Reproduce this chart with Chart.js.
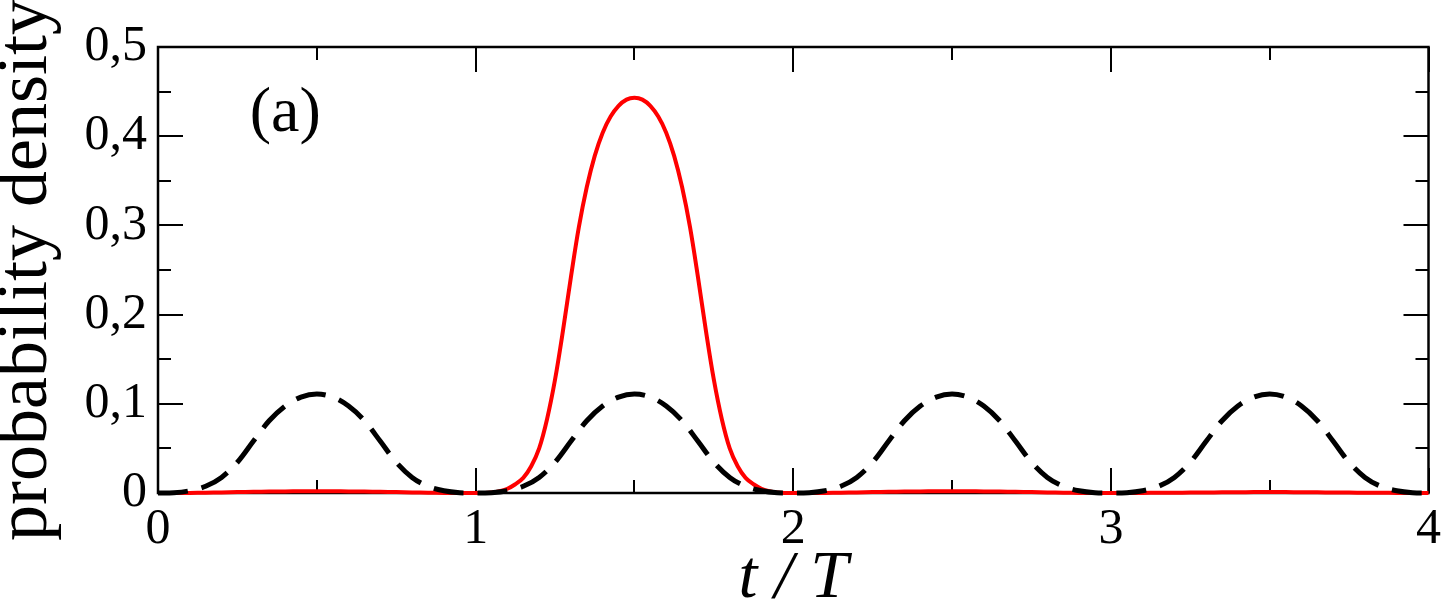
<!DOCTYPE html>
<html>
<head>
<meta charset="utf-8">
<script src="https://cdn.jsdelivr.net/npm/chart.js@4.4.1/dist/chart.umd.min.js"></script>
<style>
  html, body { margin: 0; padding: 0; background: #ffffff; }
  #wrap { width: 1448px; height: 609px; }
</style>
</head>
<body>
<div id="wrap"><canvas id="c" width="1448" height="609"></canvas></div>
<script>
// ---- data ----
const tValues = [
  0.00, 0.05, 0.10, 0.15, 0.20, 0.25, 0.30, 0.35, 0.40, 0.45,
  0.50, 0.55, 0.60, 0.65, 0.70, 0.75, 0.80, 0.85, 0.90, 0.95,
  1.00, 1.05, 1.10, 1.15, 1.20, 1.25, 1.30, 1.35, 1.40, 1.45,
  1.50, 1.55, 1.60, 1.65, 1.70, 1.75, 1.80, 1.85, 1.90, 1.95,
  2.00, 2.05, 2.10, 2.15, 2.20, 2.25, 2.30, 2.35, 2.40, 2.45,
  2.50, 2.55, 2.60, 2.65, 2.70, 2.75, 2.80, 2.85, 2.90, 2.95,
  3.00, 3.05, 3.10, 3.15, 3.20, 3.25, 3.30, 3.35, 3.40, 3.45,
  3.50, 3.55, 3.60, 3.65, 3.70, 3.75, 3.80, 3.85, 3.90, 3.95,
  4.00
];

const dashedSeries = [
  0.0000, 0.0003, 0.0025, 0.0075, 0.0175, 0.0345, 0.0580, 0.0810, 0.0975, 0.1075,
  0.1110, 0.1075, 0.0975, 0.0810, 0.0580, 0.0345, 0.0175, 0.0075, 0.0025, 0.0003,
  0.0000, 0.0003, 0.0025, 0.0075, 0.0175, 0.0345, 0.0580, 0.0810, 0.0975, 0.1075,
  0.1110, 0.1075, 0.0975, 0.0810, 0.0580, 0.0345, 0.0175, 0.0075, 0.0025, 0.0003,
  0.0000, 0.0003, 0.0025, 0.0075, 0.0175, 0.0345, 0.0580, 0.0810, 0.0975, 0.1075,
  0.1110, 0.1075, 0.0975, 0.0810, 0.0580, 0.0345, 0.0175, 0.0075, 0.0025, 0.0003,
  0.0000, 0.0003, 0.0025, 0.0075, 0.0175, 0.0345, 0.0580, 0.0810, 0.0975, 0.1075,
  0.1110, 0.1075, 0.0975, 0.0810, 0.0580, 0.0345, 0.0175, 0.0075, 0.0025, 0.0003,
  0.0000
];

const redT = [
  0.00, 0.05, 0.10, 0.15, 0.20, 0.25, 0.30, 0.35, 0.40, 0.45,
  0.50, 0.55, 0.60, 0.65, 0.70, 0.75, 0.80, 0.85, 0.90, 0.95,
  1.000, 1.025, 1.050, 1.075, 1.100, 1.125, 1.150, 1.175, 1.200, 1.225,
  1.250, 1.275, 1.300, 1.325, 1.350, 1.375, 1.400, 1.425, 1.450, 1.475,
  1.500, 1.525, 1.550, 1.575, 1.600, 1.625, 1.650, 1.675, 1.700, 1.725,
  1.750, 1.775, 1.800, 1.825, 1.850, 1.875, 1.900, 1.925, 1.950, 1.975,
  2.00, 2.05, 2.10, 2.15, 2.20, 2.25, 2.30, 2.35, 2.40, 2.45,
  2.50, 2.55, 2.60, 2.65, 2.70, 2.75, 2.80, 2.85, 2.90, 2.95,
  3.00, 3.05, 3.10, 3.15, 3.20, 3.25, 3.30, 3.35, 3.40, 3.45,
  3.50, 3.55, 3.60, 3.65, 3.70, 3.75, 3.80, 3.85, 3.90, 3.95,
  4.00
];

const redSeries = [
  0.0000, 0.0000, 0.0001, 0.0003, 0.0006, 0.0010, 0.0013, 0.0016, 0.0018, 0.0019,
  0.0020, 0.0019, 0.0018, 0.0016, 0.0013, 0.0010, 0.0006, 0.0003, 0.0001, 0.0000,
  0.0000, 0.0001, 0.0006, 0.0020, 0.0048, 0.0098, 0.0170, 0.0300, 0.0500, 0.0830,
  0.1270, 0.1820, 0.2420, 0.2980, 0.3430, 0.3780, 0.4040, 0.4220, 0.4340, 0.4410,
  0.4430, 0.4410, 0.4340, 0.4220, 0.4040, 0.3780, 0.3430, 0.2980, 0.2420, 0.1820,
  0.1270, 0.0830, 0.0500, 0.0300, 0.0170, 0.0098, 0.0048, 0.0020, 0.0006, 0.0001,
  0.0000, 0.0000, 0.0001, 0.0003, 0.0006, 0.0010, 0.0013, 0.0016, 0.0018, 0.0019,
  0.0020, 0.0019, 0.0018, 0.0016, 0.0013, 0.0010, 0.0006, 0.0003, 0.0001, 0.0000,
  0.0000, 0.0000, 0.0001, 0.0002, 0.0003, 0.0005, 0.0006, 0.0008, 0.0009, 0.0010,
  0.0010, 0.0010, 0.0009, 0.0008, 0.0006, 0.0005, 0.0003, 0.0002, 0.0001, 0.0000,
  0.0000
];

const xMajorTicks = [0, 1, 2, 3, 4];
const xMinorTicks = [0.5, 1.5, 2.5, 3.5];
const yMajorTicks = [0, 0.1, 0.2, 0.3, 0.4, 0.5];
const yMinorTicks = [0.05, 0.15, 0.25, 0.35, 0.45];
const xTitle = 't / T';
const yTitle = 'probability density';
const panelLabel = '(a)';
const panelLabelPos = [0.289, 0.406]; // in data units (t, density)

// ---- build ----
const SERIF = "'Liberation Serif', 'Times New Roman', Times, serif";
const toPts = (xs, ys) => xs.map((t, i) => ({ x: t, y: ys[i] }));
const fmt = (v) => {
  if (Math.abs(v) < 1e-9) return '0';
  if (Math.abs(v - Math.round(v)) < 1e-9) return String(Math.round(v));
  return v.toFixed(1).replace('.', ',');
};

const framePlugin = {
  id: 'frameTicks',
  beforeDatasetsDraw(chart) {
    const { ctx, chartArea: a, scales: { x, y } } = chart;
    ctx.save();
    ctx.strokeStyle = '#000';
    ctx.lineWidth = 2;
    ctx.lineCap = 'butt';
    ctx.beginPath();
    const MAJ = 25, MIN = 13;
    xMajorTicks.concat(xMinorTicks).forEach(v => {
      const px = Math.round(x.getPixelForValue(v));
      const len = xMajorTicks.includes(v) ? MAJ : MIN;
      ctx.moveTo(px, a.bottom); ctx.lineTo(px, a.bottom - len);
      ctx.moveTo(px, a.top); ctx.lineTo(px, a.top + len);
    });
    yMajorTicks.concat(yMinorTicks).forEach(v => {
      const py = Math.round(y.getPixelForValue(v));
      const len = yMajorTicks.includes(v) ? MAJ : MIN;
      ctx.moveTo(a.left, py); ctx.lineTo(a.left + len, py);
      ctx.moveTo(a.right, py); ctx.lineTo(a.right - len, py);
    });
    ctx.stroke();
    ctx.lineWidth = 2.5;
    ctx.strokeRect(a.left, a.top, a.right - a.left, a.bottom - a.top);
    ctx.restore();
  },
  afterDatasetsDraw(chart) {
    const { ctx, scales: { x, y } } = chart;
    ctx.save();
    ctx.fillStyle = '#000';
    ctx.font = '64px ' + SERIF;
    ctx.textAlign = 'left';
    ctx.textBaseline = 'alphabetic';
    ctx.fillText(panelLabel, x.getPixelForValue(panelLabelPos[0]), y.getPixelForValue(panelLabelPos[1]));
    ctx.restore();
  }
};

new Chart(document.getElementById('c'), {
  type: 'line',
  data: {
    datasets: [
      {
        label: 'dashed',
        data: toPts(tValues, dashedSeries),
        borderColor: '#000000',
        borderWidth: 5,
        borderDash: [30, 14],
        pointRadius: 0,
        fill: false,
        tension: 0.35,
        clip: 8
      },
      {
        label: 'red',
        data: toPts(redT, redSeries),
        borderColor: '#ff0000',
        borderWidth: 4,
        pointRadius: 0,
        fill: false,
        tension: 0.35,
        clip: 8
      }
    ]
  },
  plugins: [framePlugin],
  options: {
    responsive: false,
    animation: false,
    devicePixelRatio: 1,
    layout: { padding: { top: 47, right: 15, left: 0, bottom: 0 } },
    plugins: { legend: { display: false }, tooltip: { enabled: false } },
    scales: {
      x: {
        type: 'linear',
        min: 0, max: 4,
        afterFit(s) { s.height = 116; },
        afterBuildTicks(s) { s.ticks = xMajorTicks.map(v => ({ value: v })); },
        grid: { display: false, drawTicks: false },
        border: { display: false },
        ticks: {
          color: '#000',
          padding: 7,
          maxRotation: 0,
          font: { family: SERIF, size: 50 },
          callback: (v) => fmt(v)
        },
        title: {
          display: true,
          text: xTitle,
          color: '#000',
          padding: 0,
          font: { family: SERIF, size: 68, style: 'italic', lineHeight: 0.88 }
        }
      },
      y: {
        type: 'linear',
        min: 0, max: 0.5,
        afterFit(s) { s.width = 158; },
        afterBuildTicks(s) { s.ticks = yMajorTicks.map(v => ({ value: v })); },
        grid: { display: false, drawTicks: false },
        border: { display: false },
        ticks: {
          color: '#000',
          padding: 11,
          font: { family: SERIF, size: 50 },
          callback: (v) => fmt(v)
        },
        title: {
          display: true,
          text: yTitle,
          color: '#000',
          padding: 0,
          font: { family: SERIF, size: 72, lineHeight: 0.75 }
        }
      }
    }
  }
});
</script>
</body>
</html>
